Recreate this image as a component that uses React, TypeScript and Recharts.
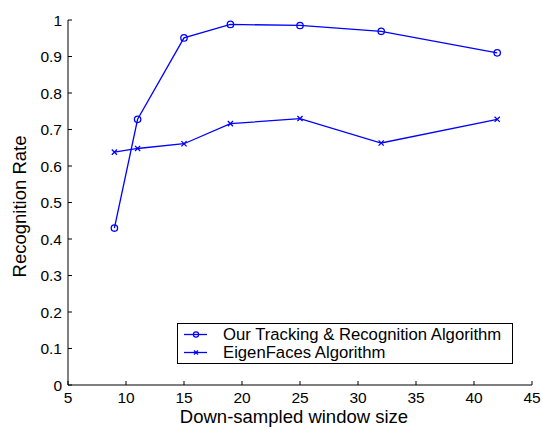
import React from 'react';
import { LineChart, Line, XAxis, YAxis } from 'recharts';

const windowSizes = [9, 11, 15, 19, 25, 32, 42];
const trackingRates = [0.430, 0.728, 0.951, 0.988, 0.985, 0.969, 0.910];
const eigenRates = [0.638, 0.648, 0.661, 0.716, 0.730, 0.663, 0.728];
const xTicks = [5, 10, 15, 20, 25, 30, 35, 40, 45];
const yTicks = [0, 0.1, 0.2, 0.3, 0.4, 0.5, 0.6, 0.7, 0.8, 0.9, 1];
const seriesNames = ['Our Tracking & Recognition Algorithm', 'EigenFaces Algorithm'];

const data = windowSizes.map((w, i) => ({ w, ours: trackingRates[i], eigen: eigenRates[i] }));

const BLUE = '#0000ff';
const FONT = '"Liberation Sans", Arial, sans-serif';

const CircleDot = (p: any) => (
  <circle key={p.index} cx={p.cx} cy={p.cy} r={3.2} fill="none" stroke={BLUE} strokeWidth={1.3} />
);

const CrossDot = (p: any) => (
  <path key={p.index}
    d={`M${p.cx - 2.6},${p.cy - 2.6}L${p.cx + 2.6},${p.cy + 2.6}M${p.cx + 2.6},${p.cy - 2.6}L${p.cx - 2.6},${p.cy + 2.6}`}
    stroke={BLUE} strokeWidth={1.3} fill="none" />
);

// legend box drawn over the chart (lower middle), like the MATLAB one
const LegendBox = () => (
  <div style={{ position: 'absolute', left: 177, top: 323, border: '1.5px solid #000', background: '#fff', width: 336, height: 41, boxSizing: 'border-box', paddingTop: 2, fontFamily: FONT, fontSize: 16.7, color: '#000' }}>
    {seriesNames.map((name, i) => (
      <div key={name} style={{ display: 'flex', alignItems: 'center', height: 17.7, lineHeight: '17.7px' }}>
        <svg width={45} height={17} style={{ flex: 'none' }}>
          <line x1={6} x2={29} y1={8.5} y2={8.5} stroke={BLUE} strokeWidth={1.3} />
          {i === 0
            ? <circle cx={18} cy={8.5} r={2.6} fill="none" stroke={BLUE} strokeWidth={1.2} />
            : <path d="M16,6.5L20,10.5M20,6.5L16,10.5" stroke={BLUE} strokeWidth={1.2} />}
        </svg>
        <span style={{ whiteSpace: 'nowrap' }}>{name}</span>
      </div>
    ))}
  </div>
);

const fmt = (v: number) => (v === 0 ? '0' : v === 1 ? '1' : v.toFixed(1));

export default function App() {
  return (
    <div style={{ position: 'absolute', left: 0, top: 0, width: 542, height: 430, background: '#fff' }}>
      <LineChart width={542} height={430} data={data} margin={{ top: 20, right: 10, left: 8, bottom: 0 }}
        style={{ fontFamily: FONT }}>
        <XAxis dataKey="w" type="number" domain={[5, 45]} ticks={xTicks} allowDataOverflow
          height={45} tickSize={-4} tickMargin={11}
          axisLine={{ stroke: '#000', strokeWidth: 1 }} tickLine={{ stroke: '#000', strokeWidth: 1 }}
          tick={{ fill: '#000', fontSize: 15.5 }}
          label={({ viewBox }: any) => (
            <text x={viewBox.x + viewBox.width / 2 - 6} y={viewBox.y + 38} textAnchor="middle"
              fill="#000" fontSize={18.5} fontFamily={FONT}>
              Down-sampled window size
            </text>
          )} />
        <YAxis type="number" domain={[0, 1]} ticks={yTicks} width={60} tickSize={-4} tickMargin={10}
          tickFormatter={fmt}
          axisLine={{ stroke: '#000', strokeWidth: 1 }} tickLine={{ stroke: '#000', strokeWidth: 1 }}
          tick={{ fill: '#000', fontSize: 15.5 }}
          label={({ viewBox }: any) => {
            const lx = viewBox.x + 18;
            const ly = viewBox.y + viewBox.height / 2 + 4;
            return (
              <text x={lx} y={ly} transform={`rotate(-90 ${lx} ${ly})`} textAnchor="middle"
                fill="#000" fontSize={18.5} fontFamily={FONT}>
                Recognition Rate
              </text>
            );
          }} />
        <Line dataKey="ours" name={seriesNames[0]} stroke={BLUE} strokeWidth={1.3} dot={CircleDot} isAnimationActive={false} />
        <Line dataKey="eigen" name={seriesNames[1]} stroke={BLUE} strokeWidth={1.3} dot={CrossDot} isAnimationActive={false} />
      </LineChart>
      <LegendBox />
    </div>
  );
}
